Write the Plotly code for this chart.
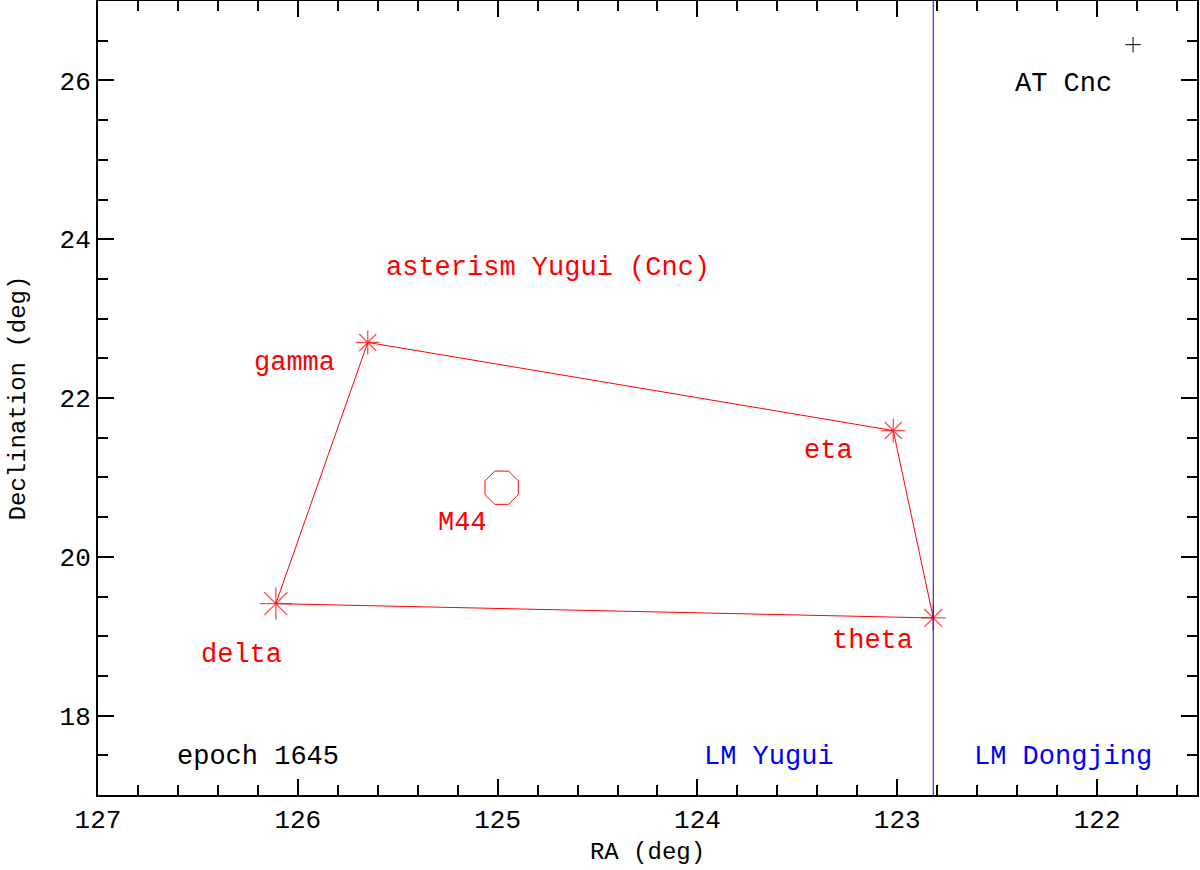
import plotly.graph_objects as go

# stars of the asterism, in drawing order of the outline
star_names = ["gamma", "eta", "theta", "delta"]
star_ra = [125.65, 123.02, 122.82, 126.11]
star_dec = [22.70, 21.59, 19.23, 19.41]
star_size = [20, 20, 21, 27]

cluster_name = "M44"
cluster_ra = 124.98
cluster_dec = 20.87

var_name = "AT Cnc"
var_ra = 121.82
var_dec = 26.45

lm_boundary_ra = 122.82
title_text = "asterism Yugui (Cnc)"
epoch_text = "epoch 1645"
lm_left = "LM Yugui"
lm_right = "LM Dongjing"

FONT = "Liberation Mono"
RED = "#ff0000"
BLUE = "#0000ff"

fig = go.Figure()

# outline of the asterism
fig.add_trace(go.Scatter(
    x=star_ra + star_ra[:1], y=star_dec + star_dec[:1], mode="lines",
    line=dict(color=RED, width=1), hoverinfo="skip"))

fig.add_trace(go.Scatter(
    x=star_ra, y=star_dec, mode="markers", text=star_names,
    marker=dict(symbol="asterisk-open", size=star_size, color=RED,
                line=dict(color=RED, width=1.3))))

fig.add_trace(go.Scatter(
    x=[cluster_ra], y=[cluster_dec], mode="markers",
    marker=dict(symbol="octagon-open", size=36, color=RED,
                line=dict(color=RED, width=1))))

fig.add_trace(go.Scatter(
    x=[var_ra], y=[var_dec], mode="markers",
    marker=dict(symbol="cross-thin-open", size=11, color="black",
                line=dict(color="black", width=1))))

# lunar mansion boundary
fig.add_shape(type="line", x0=lm_boundary_ra, x1=lm_boundary_ra, y0=0, y1=1,
              xref="x", yref="paper", line=dict(color=BLUE, width=1))

# star labels, shifted in pixels from their markers
label_shift = {"gamma": (-73, -21), "eta": (-65, -20), "theta": (-61, -23), "delta": (-34, -51)}
for name, ra, dec in zip(star_names, star_ra, star_dec):
    dx, dy = label_shift[name]
    fig.add_annotation(x=ra, y=dec, text=name, showarrow=False, xshift=dx, yshift=dy,
                       font=dict(family=FONT, size=27, color=RED))

fig.add_annotation(x=cluster_ra, y=cluster_dec, text=cluster_name, showarrow=False,
                   xshift=-39, yshift=-35, font=dict(family=FONT, size=27, color=RED))
fig.add_annotation(x=var_ra, y=var_dec, text=var_name, showarrow=False,
                   xshift=-70, yshift=-39, font=dict(family=FONT, size=27, color="black"))

fig.add_annotation(x=124.75, y=23.64, text=title_text, showarrow=False,
                   font=dict(family=FONT, size=27, color=RED))
fig.add_annotation(x=126.2, y=17.48, text=epoch_text, showarrow=False,
                   font=dict(family=FONT, size=27, color="black"))
fig.add_annotation(x=123.64, y=17.48, text=lm_left, showarrow=False,
                   font=dict(family=FONT, size=27, color=BLUE))
fig.add_annotation(x=122.17, y=17.48, text=lm_right, showarrow=False,
                   font=dict(family=FONT, size=27, color=BLUE))

axis_common = dict(
    showgrid=False, zeroline=False, showline=True, linecolor="black", linewidth=2,
    mirror="allticks", ticks="inside", ticklen=16, tickwidth=1.5, tickcolor="black",
    tickfont=dict(family=FONT, size=26, color="black"), automargin=False,
)

fig.update_xaxes(
    range=[127, 121.5], tickmode="linear", tick0=127, dtick=1,
    minor=dict(ticks="inside", ticklen=10, tickwidth=1.5, tickcolor="black", dtick=0.2),
    title=dict(text="RA (deg)", font=dict(family=FONT, size=24, color="black"), standoff=7),
    **axis_common)
fig.update_yaxes(
    range=[17, 27], tickmode="linear", tick0=18, dtick=2,
    minor=dict(ticks="inside", ticklen=10, tickwidth=1.5, tickcolor="black", dtick=0.5),
    title=dict(text="Declination (deg)", font=dict(family=FONT, size=24, color="black"), standoff=27),
    **axis_common)

fig.update_layout(
    width=1200, height=870, showlegend=False,
    plot_bgcolor="white", paper_bgcolor="white",
    margin=dict(l=98, r=3, t=1, b=75),
)

# drop the browser's default page margin so the figure sits at the window corner
fig.write_html("out.html", config={"displayModeBar": False},
               post_script="document.body.style.margin='0';")
